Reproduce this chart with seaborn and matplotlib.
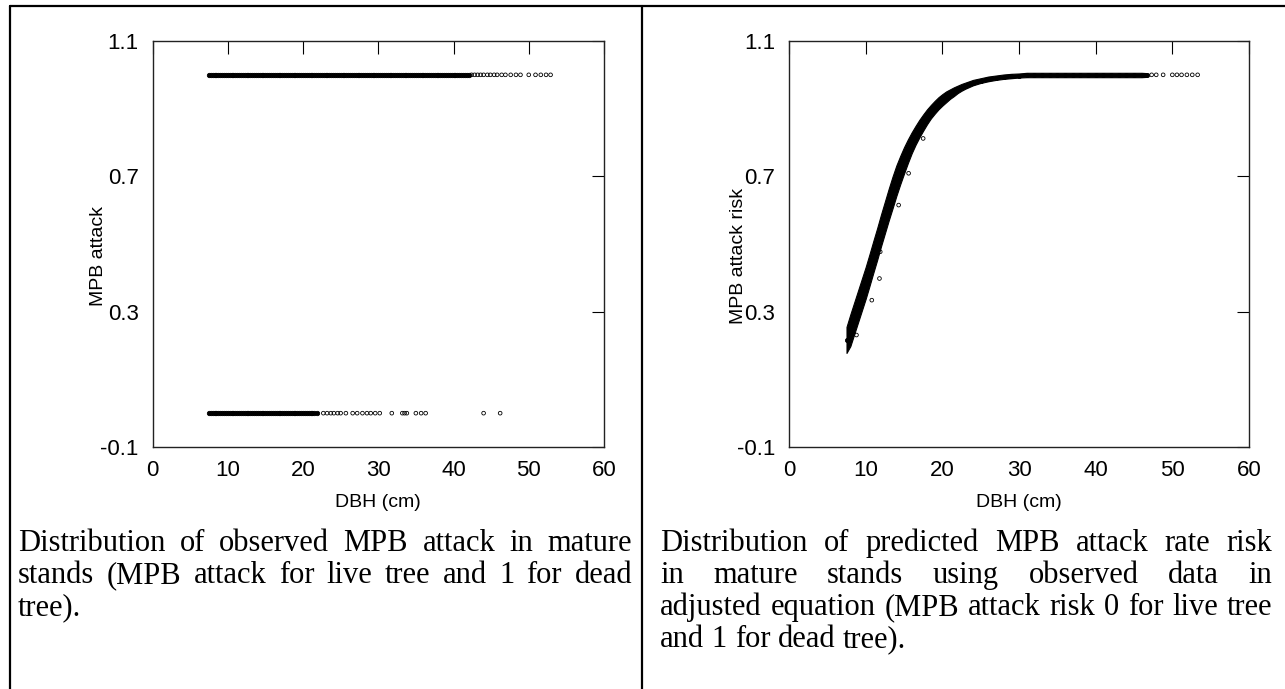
import matplotlib
matplotlib.use("Agg")
import matplotlib.pyplot as plt
from matplotlib.lines import Line2D
import pandas as pd
import seaborn as sns

# ---------------- data ----------------
# Left panel: observed MPB attack (1 = dead / attacked, 0 = live)
dead_dbh_dense = [7.5, 7.75, 8.0, 8.25, 8.5, 8.75, 9.0, 9.25, 9.5, 9.75, 10.0, 10.25,
                  10.5, 10.75, 11.0, 11.25, 11.5, 11.75, 12.0, 12.25, 12.5, 12.75,
                  13.0, 13.25, 13.5, 13.75, 14.0, 14.25, 14.5, 14.75, 15.0, 15.25,
                  15.5, 15.75, 16.0, 16.25, 16.5, 16.75, 17.0, 17.25, 17.5, 17.75,
                  18.0, 18.25, 18.5, 18.75, 19.0, 19.25, 19.5, 19.75, 20.0, 20.25,
                  20.5, 20.75, 21.0, 21.25, 21.5, 21.75, 22.0, 22.25, 22.5, 22.75,
                  23.0, 23.25, 23.5, 23.75, 24.0, 24.25, 24.5, 24.75, 25.0, 25.25,
                  25.5, 25.75, 26.0, 26.25, 26.5, 26.75, 27.0, 27.25, 27.5, 27.75,
                  28.0, 28.25, 28.5, 28.75, 29.0, 29.25, 29.5, 29.75, 30.0, 30.25,
                  30.5, 30.75, 31.0, 31.25, 31.5, 31.75, 32.0, 32.25, 32.5, 32.75,
                  33.0, 33.25, 33.5, 33.75, 34.0, 34.25, 34.5, 34.75, 35.0, 35.25,
                  35.5, 35.75, 36.0, 36.25, 36.5, 36.75, 37.0, 37.25, 37.5, 37.75,
                  38.0, 38.25, 38.5, 38.75, 39.0, 39.25, 39.5, 39.75, 40.0, 40.25,
                  40.5, 40.75, 41.0, 41.25, 41.5, 41.75, 42.0]
dead_dbh_sparse = [42.4, 42.8, 43.2, 43.6, 44.0, 44.5, 44.9, 45.4, 45.8, 46.4, 46.9,
                   47.6, 48.3, 48.9, 50.0, 50.9, 51.6, 52.3, 52.9]
live_dbh_dense = [7.5, 7.75, 8.0, 8.25, 8.5, 8.75, 9.0, 9.25, 9.5, 9.75, 10.0, 10.25,
                  10.5, 10.75, 11.0, 11.25, 11.5, 11.75, 12.0, 12.25, 12.5, 12.75,
                  13.0, 13.25, 13.5, 13.75, 14.0, 14.25, 14.5, 14.75, 15.0, 15.25,
                  15.5, 15.75, 16.0, 16.25, 16.5, 16.75, 17.0, 17.25, 17.5, 17.75,
                  18.0, 18.25, 18.5, 18.75, 19.0, 19.25, 19.5, 19.75, 20.0, 20.25,
                  20.5, 20.75, 21.0, 21.25, 21.5, 21.9]
live_dbh_sparse = [22.7, 23.2, 23.7, 24.1, 24.6, 25.0, 25.7, 26.6, 27.2, 27.9, 28.5,
                   29.0, 29.6, 30.2, 31.8, 33.2, 33.5, 33.8, 35.0, 35.7, 36.3, 44.0, 46.2]

# Right panel: predicted MPB attack risk (centre and edges of the band of predictions)
pred_dbh = [7.5, 8.0, 8.5, 9.0, 9.5, 10.0, 10.5, 11.0, 11.5, 12.0, 12.5, 13.0, 13.5,
            14.0, 14.5, 15.0, 15.5, 16.0, 16.5, 17.0, 17.5, 18.0, 18.5, 19.0, 19.5,
            20.0, 20.5, 21.0, 21.5, 22.0, 22.5, 23.0, 23.5, 24.0, 25.0, 26.0, 27.0,
            28.0, 29.0, 30.0, 31.0, 32.0, 33.0, 34.0, 35.0, 36.0, 37.0, 38.0, 39.0,
            40.0, 41.0, 42.0, 43.0, 44.0, 45.0, 46.0, 46.7]
pred_mid = [0.215, 0.245, 0.280, 0.315, 0.350, 0.385, 0.423, 0.462, 0.500, 0.540,
            0.578, 0.616, 0.652, 0.687, 0.718, 0.747, 0.774, 0.799, 0.821, 0.841,
            0.859, 0.876, 0.891, 0.904, 0.916, 0.926, 0.935, 0.943, 0.950, 0.957,
            0.963, 0.968, 0.973, 0.977, 0.983, 0.988, 0.992, 0.995, 0.997, 0.998,
            0.999, 1.000, 1.000, 1.000, 1.000, 1.000, 1.000, 1.000, 1.000, 1.000,
            1.000, 1.000, 1.000, 1.000, 1.000, 1.000, 1.000]
pred_low = [0.178, 0.198, 0.233, 0.268, 0.303, 0.338, 0.376, 0.415, 0.453, 0.493,
            0.531, 0.569, 0.605, 0.642, 0.676, 0.708, 0.739, 0.768, 0.793, 0.815,
            0.835, 0.854, 0.871, 0.885, 0.898, 0.909, 0.919, 0.929, 0.937, 0.946,
            0.953, 0.959, 0.964, 0.969, 0.976, 0.981, 0.985, 0.988, 0.990, 0.992,
            0.993, 0.993, 0.993, 0.993, 0.993, 0.993, 0.993, 0.993, 0.993, 0.993,
            0.993, 0.993, 0.993, 0.993, 0.993, 0.993, 0.994]
pred_high = [0.255, 0.292, 0.327, 0.362, 0.397, 0.432, 0.470, 0.509, 0.547, 0.587,
             0.625, 0.663, 0.699, 0.732, 0.760, 0.786, 0.809, 0.830, 0.849, 0.867,
             0.883, 0.898, 0.911, 0.923, 0.934, 0.943, 0.951, 0.957, 0.963, 0.968,
             0.973, 0.977, 0.981, 0.985, 0.990, 0.995, 0.998, 1.001, 1.003, 1.004,
             1.006, 1.006, 1.006, 1.006, 1.006, 1.006, 1.006, 1.006, 1.006, 1.006,
             1.006, 1.006, 1.006, 1.006, 1.006, 1.006, 1.005]
pred_out_dbh = [8.6, 8.8, 10.8, 11.8, 11.9, 14.3, 15.6, 17.5]
pred_out_risk = [0.266, 0.231, 0.334, 0.398, 0.477, 0.615, 0.709, 0.812]
pred_tail_dbh = [47.3, 47.9, 48.8, 50.0, 50.6, 51.2, 51.9, 52.6, 53.3]
pred_tail_risk = [1.0, 1.0, 1.0, 1.0, 1.0, 1.0, 1.0, 1.0, 1.0]

x_ticks = [0, 10, 20, 30, 40, 50, 60]
y_ticks = [-0.1, 0.3, 0.7, 1.1]
y_tick_labels = ["-0.1", "0.3", "0.7", "1.1"]

caption_left = ["Distribution of observed MPB attack in mature",
                "stands (MPB attack for live tree and 1 for dead",
                "tree)."]
caption_right = ["Distribution of predicted MPB attack rate risk",
                 "in mature stands using observed data in",
                 "adjusted equation (MPB attack risk 0 for live tree",
                 "and 1 for dead tree)."]

# ---------------- styling ----------------
sns.set_theme(style="white")
plt.rcParams["font.family"] = ["Liberation Sans", "DejaVu Sans"]

W, H = 1285, 689
fig = plt.figure(figsize=(W / 100, H / 100), dpi=100)
fig.patch.set_facecolor("white")

def fx(px):
    return px / W

def fy(py):
    return 1 - py / H

ax1 = fig.add_axes([fx(152.5), fy(447), fx(604) - fx(152.5), fy(41) - fy(447)])
ax2 = fig.add_axes([fx(789), fy(447), fx(1249) - fx(789), fy(41) - fy(447)])

# left panel
df_dense = pd.DataFrame({"DBH": dead_dbh_dense + live_dbh_dense,
                         "attack": [1.0] * len(dead_dbh_dense) + [0.0] * len(live_dbh_dense)})
df_sparse = pd.DataFrame({"DBH": dead_dbh_sparse + live_dbh_sparse,
                          "attack": [1.0] * len(dead_dbh_sparse) + [0.0] * len(live_dbh_sparse)})
sns.scatterplot(data=df_dense, x="DBH", y="attack", ax=ax1, marker="o", s=10,
                color="black", edgecolor="black", linewidth=0.6, zorder=3)
sns.scatterplot(data=df_sparse, x="DBH", y="attack", ax=ax1, marker="o", s=7,
                facecolor="none", edgecolor="black", linewidth=0.6, zorder=3)

# right panel
ax2.fill_between(pred_dbh, pred_low, pred_high, color="black", linewidth=0.8,
                 edgecolor="black", zorder=2)
df_pred = pd.DataFrame({"DBH": pred_dbh, "risk": pred_mid})
sns.scatterplot(data=df_pred, x="DBH", y="risk", ax=ax2, marker="o", s=9,
                color="black", edgecolor="black", linewidth=0.6, zorder=3)
df_out = pd.DataFrame({"DBH": pred_out_dbh, "risk": pred_out_risk})
sns.scatterplot(data=df_out, x="DBH", y="risk", ax=ax2, marker="o", s=7,
                facecolor="none", edgecolor="black", linewidth=0.6, zorder=3)
df_tail = pd.DataFrame({"DBH": pred_tail_dbh, "risk": pred_tail_risk})
sns.scatterplot(data=df_tail, x="DBH", y="risk", ax=ax2, marker="o", s=7,
                facecolor="none", edgecolor="black", linewidth=0.6, zorder=3)

for ax, ylab, lx in [(ax1, "MPB attack", -0.101), (ax2, "MPB attack risk", -0.091)]:
    ax.set_xlim(0, 60)
    ax.set_ylim(-0.1, 1.1)
    ax.set_xticks(x_ticks)
    ax.set_xticklabels([str(t) for t in x_ticks])
    ax.set_yticks(y_ticks)
    ax.set_yticklabels(y_tick_labels)
    ax.tick_params(axis="both", direction="in", length=9, width=0.8, color="black",
                   top=True, right=True, labelsize=16, labelcolor="black")
    ax.tick_params(axis="x", pad=9)
    ax.tick_params(axis="y", pad=10)
    for sp in ax.spines.values():
        sp.set_visible(True)
        sp.set_color("#222222")
        sp.set_linewidth(1.0)
    ax.set_xlabel("DBH (cm)", fontsize=14, color="black", labelpad=10)
    ax.set_ylabel(ylab, fontsize=14, color="black")
    ax.yaxis.set_label_coords(lx, 0.47)
    ax.set_facecolor("white")
    ax.grid(False)

# ---------------- table-like borders ----------------
for (x0, y0, x1, y1) in [(10, 6, 1285, 6), (10, 6, 10, 689), (642, 6, 642, 689)]:
    fig.add_artist(Line2D([fx(x0), fx(x1)], [fy(y0), fy(y1)], color="black",
                          linewidth=1.6, transform=fig.transFigure))

# ---------------- justified captions ----------------
renderer = fig.canvas.get_renderer()
cap_font = dict(family=["Liberation Serif", "DejaVu Serif"], size=22, color="black")

def measure(s):
    t = fig.text(0, 0, s, **cap_font)
    w = t.get_window_extent(renderer).width
    t.remove()
    return w

space_w = measure("a a") - measure("aa")

def justified(lines, x0, x1, y_base0, dy):
    for i, line in enumerate(lines):
        words = line.split(" ")
        last = (i == len(lines) - 1)
        widths = [measure(w) for w in words]
        if not last and len(words) > 1:
            gap = (x1 - x0 - sum(widths)) / (len(words) - 1)
        else:
            gap = space_w
        x = x0
        yb = y_base0 + i * dy
        for w, wd in zip(words, widths):
            fig.text(fx(x), fy(yb), w, ha="left", va="baseline", **cap_font)
            x += wd + gap

justified(caption_left, 18, 632, 551, 32)
justified(caption_right, 660, 1272, 551, 32)

fig.savefig("out.png", dpi=100, facecolor="white")
